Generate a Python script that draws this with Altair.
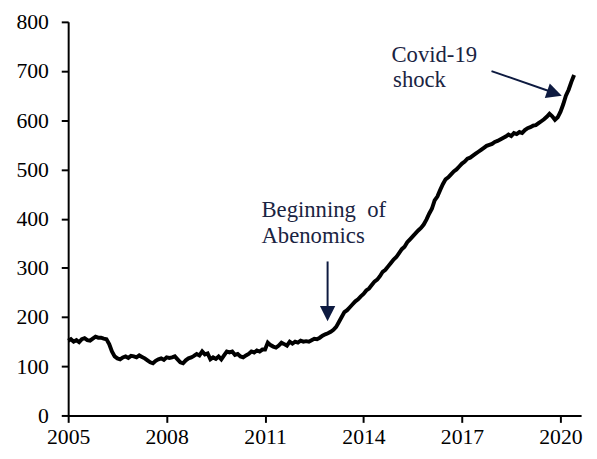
import altair as alt
import pandas as pd

# Monthly values, Jan 2005 .. Jun 2020
values_by_year = {
    2005: [152, 155, 150, 153, 149, 155, 157, 153, 152, 156, 160, 158],
    2006: [158, 156, 155, 145, 130, 120, 116, 114, 118, 120, 117, 121],
    2007: [120, 118, 122, 119, 116, 112, 108, 106, 111, 114, 116, 113],
    2008: [118, 117, 118, 120, 114, 108, 106, 112, 116, 118, 121, 125],
    2009: [122, 130, 124, 126, 114, 118, 115, 120, 114, 122, 130, 128],
    2010: [130, 123, 125, 120, 118, 122, 125, 130, 128, 132, 130, 134],
    2011: [134, 148, 143, 140, 138, 142, 148, 145, 142, 150, 146, 150],
    2012: [148, 152, 150, 151, 150, 153, 156, 155, 158, 162, 165, 167],
    2013: [170, 174, 180, 190, 200, 210, 214, 220, 226, 232, 236, 242],
    2014: [247, 254, 258, 265, 272, 276, 283, 292, 296, 303, 310, 317],
    2015: [322, 330, 338, 343, 352, 358, 364, 370, 376, 381, 388, 398],
    2016: [410, 420, 437, 445, 458, 470, 480, 484, 490, 496, 500, 506],
    2017: [512, 516, 522, 524, 528, 532, 536, 540, 544, 548, 550, 552],
    2018: [556, 558, 561, 564, 567, 571, 568, 574, 572, 576, 574, 580],
    2019: [584, 586, 589, 590, 594, 598, 602, 607, 613, 608, 601, 606],
    2020: [617, 632, 650, 662, 678, 692],
}

x_ticks = [2005, 2008, 2011, 2014, 2017, 2020]
y_ticks = [0, 100, 200, 300, 400, 500, 600, 700, 800]

# Annotation texts and anchor positions (data units)
label_texts = ["Beginning\u00a0 of", "Abenomics", "Covid-19", "shock"]
label_x = [2010.89, 2010.89, 2014.85, 2014.90]
label_y = [403, 351, 718, 668]

# Arrow shafts
shaft_x = [2012.905, 2017.90]
shaft_y = [313, 700]
shaft_x2 = [2012.905, 2019.80]
shaft_y2 = [208, 656]
# Arrow heads
head_x = [2012.905, 2019.82]
head_y = [207, 655]
head_angle = [90, 19]

NAVY = "#0d1a40"
FONT = "Liberation Serif, Times New Roman, Times, serif"

rows = []
for yr, vals in values_by_year.items():
    for m, v in enumerate(vals):
        rows.append({"t": yr + m / 12.0, "v": v})
df = pd.DataFrame(rows)

xscale = alt.Scale(domain=[2005, 2020.63], nice=False, zero=False)
yscale = alt.Scale(domain=[0, 800], nice=False)

line = alt.Chart(df).mark_line(color="black", strokeWidth=4).encode(
    x=alt.X("t:Q", scale=xscale,
            axis=alt.Axis(values=x_ticks, format="d", title=None, tickSize=7,
                          labelPadding=4, labelFont=FONT, labelFontSize=22,
                          labelFlush=False, labelOverlap=False)),
    y=alt.Y("v:Q", scale=yscale,
            axis=alt.Axis(values=y_ticks, title=None, tickSize=7,
                          labelPadding=13, labelFont=FONT, labelFontSize=22,
                          labelFlush=False, labelOverlap=False)),
)

lab_df = pd.DataFrame({"x": label_x, "y": label_y, "text": label_texts})
labels = alt.Chart(lab_df).mark_text(
    align="left", baseline="alphabetic", font=FONT,
    fontSize=23, color="#1a2442"
).encode(x=alt.X("x:Q", scale=xscale), y=alt.Y("y:Q", scale=yscale), text="text:N")

shaft_df = pd.DataFrame({"x": shaft_x, "y": shaft_y, "x2": shaft_x2, "y2": shaft_y2})
shafts = alt.Chart(shaft_df).mark_rule(color=NAVY, strokeWidth=2).encode(
    x=alt.X("x:Q", scale=xscale), y=alt.Y("y:Q", scale=yscale),
    x2="x2:Q", y2="y2:Q")

head_df = pd.DataFrame({"x": head_x, "y": head_y, "a": head_angle})
heads = alt.Chart(head_df).mark_point(
    shape="M-1,-1L1,0L-1,1Z", filled=True, color=NAVY, opacity=1, size=240
).encode(x=alt.X("x:Q", scale=xscale), y=alt.Y("y:Q", scale=yscale),
         angle=alt.Angle("a:Q", scale=None))

chart = alt.layer(line, shafts, heads, labels).properties(
    width=520, height=399,
    autosize=alt.AutoSizeParams(type="none"),
    padding={"left": 61, "top": 11, "right": 8, "bottom": 35},
).configure(font=FONT).configure_view(stroke=None).configure_axis(
    grid=False, domainColor="black", domainWidth=2, tickColor="black",
    tickWidth=2, labelColor="black",
)

chart.save("out.html", embed_options={"renderer": "svg", "actions": False})
